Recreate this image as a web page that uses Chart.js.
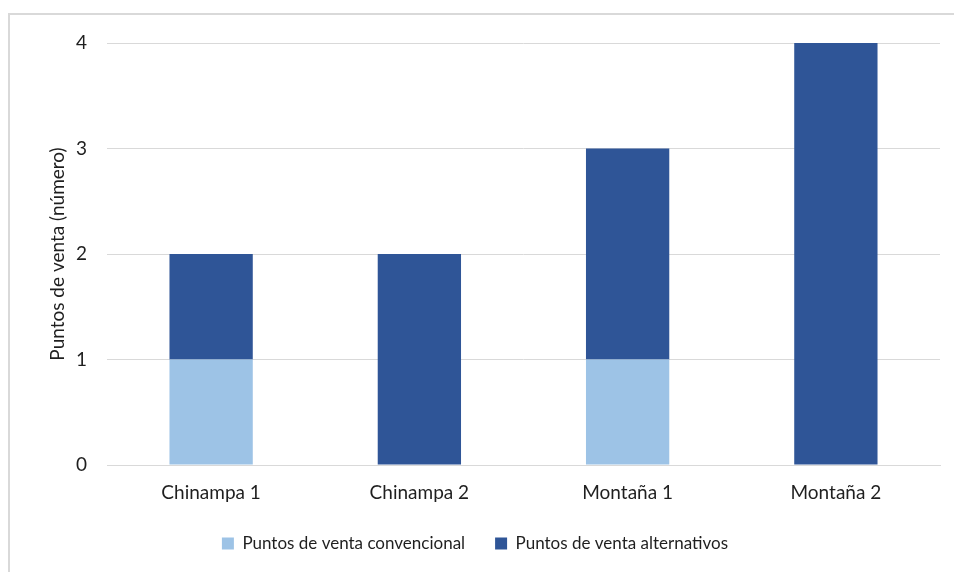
<!DOCTYPE html>
<html>
<head>
<meta charset="utf-8">
<script src="https://cdn.jsdelivr.net/npm/chart.js@4/dist/chart.umd.min.js"></script>
<style>
  html, body { margin: 0; padding: 0; background: #fff; }
  #wrap { position: relative; width: 954px; height: 572px; overflow: hidden; }
  #frame { position: absolute; left: 8px; top: 13px; width: 1000px; height: 700px;
           border-left: 2px solid #d9d9d9; border-top: 2px solid #d9d9d9; box-sizing: border-box; }
  canvas { position: absolute; left: 0; top: 0; }
</style>
</head>
<body>
<div id="wrap">
  <div id="frame"></div>
  <canvas id="c" width="954" height="572"></canvas>
</div>
<script>
const categories = ['Chinampa 1', 'Chinampa 2', 'Montaña 1', 'Montaña 2'];
const convencional = [1, 0, 1, 0];
const alternativos = [1, 2, 2, 4];
const yTicks = [0, 1, 2, 3, 4];

const FONT = 'Lato, "Open Sans", sans-serif';
const TXT = '#1f1f1f';
const GRID = '#d9d9d9';

new Chart(document.getElementById('c'), {
  type: 'bar',
  data: {
    labels: categories,
    datasets: [
      { label: 'Puntos de venta convencional', data: convencional,
        backgroundColor: '#9dc3e6', borderWidth: 0 },
      { label: 'Puntos de venta alternativos', data: alternativos,
        backgroundColor: '#2f5597', borderWidth: 0 }
    ]
  },
  options: {
    responsive: false,
    animation: false,
    devicePixelRatio: 1,
    layout: { padding: { left: 10, right: 14, top: 43, bottom: 10 } },
    datasets: { bar: { categoryPercentage: 1.0, barPercentage: 0.4 } },
    plugins: {
      tooltip: { enabled: false },
      legend: {
        position: 'bottom',
        labels: {
          font: { family: FONT, size: 17 },
          color: TXT,
          boxWidth: 12,
          boxHeight: 12,
          padding: 30
        }
      }
    },
    scales: {
      x: {
        stacked: true,
        grid: { display: false, drawTicks: false },
        border: { display: true, color: GRID, width: 1 },
        ticks: { font: { family: FONT, size: 19 }, color: TXT, padding: 16, maxRotation: 0 },
        afterFit: (s) => { s.height = 40; }
      },
      y: {
        stacked: true,
        min: 0,
        max: 4,
        afterBuildTicks: (s) => { s.ticks = yTicks.map(v => ({ value: v })); },
        grid: { color: GRID, lineWidth: 1, drawTicks: false },
        border: { display: false },
        ticks: { font: { family: FONT, size: 19 }, color: TXT, padding: 20 },
        title: {
          display: true,
          text: 'Puntos de venta (número)',
          font: { family: FONT, size: 19 },
          color: TXT,
          padding: { top: 36, bottom: 0 }
        },
        afterFit: (s) => { s.width = 97; }
      }
    }
  }
});
</script>
</body>
</html>
